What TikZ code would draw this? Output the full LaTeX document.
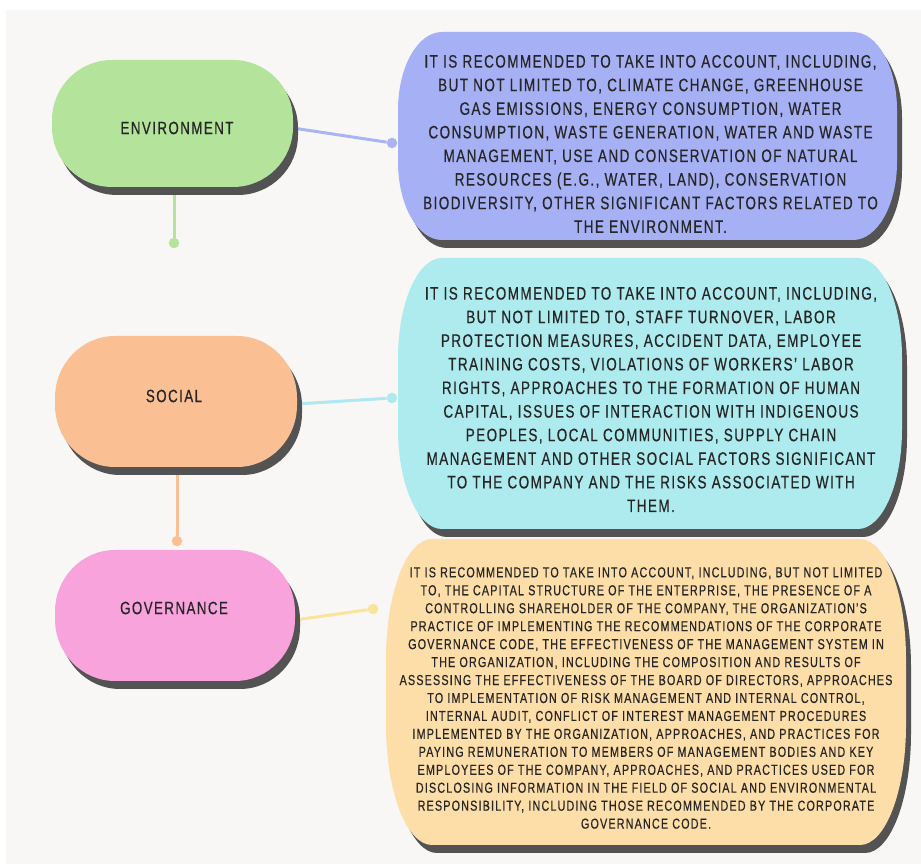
\documentclass[tikz,border=0pt]{standalone}
\usepackage{fontspec}
\setmainfont{Liberation Sans}[FakeStretch=0.75, LetterSpace=8, FakeBold=0.5]
\usetikzlibrary{calc}

\definecolor{pagewhite}{HTML}{FFFFFF}
\definecolor{panel}{HTML}{F8F7F5}
\definecolor{shadowgray}{HTML}{535353}
\definecolor{inkgray}{HTML}{262626}
\definecolor{envgreen}{HTML}{B4E49C}
\definecolor{socorange}{HTML}{FBBF94}
\definecolor{govpink}{HTML}{F9A3DD}
\definecolor{infoblue}{HTML}{A6B1F5}
\definecolor{infocyan}{HTML}{AEEBEF}
\definecolor{infoyellow}{HTML}{FDDDA8}
\definecolor{lineblue}{HTML}{A9B5F2}
\definecolor{linecyan}{HTML}{AEE8F0}
\definecolor{lineyellow}{HTML}{F9E49A}

% outline of a card: rectangle with elliptical corners (x radius #2, y radius #3)
\newcommand\cardpath[3]{([yshift=#3pt]#1.south west) -- ([yshift=-#3pt]#1.north west)
  arc[start angle=180, end angle=90, x radius=#2, y radius=#3]
  -- ([xshift=-#2pt]#1.north east)
  arc[start angle=90, end angle=0, x radius=#2, y radius=#3]
  -- ([yshift=#3pt]#1.south east)
  arc[start angle=0, end angle=-90, x radius=#2, y radius=#3]
  -- ([xshift=#2pt]#1.south west)
  arc[start angle=270, end angle=180, x radius=#2, y radius=#3] -- cycle}
% card with its dark drop shadow
\newcommand\cardshape[4]{%
  \fill[shadowgray, transform canvas={shift={(5pt,-8pt)}}] \cardpath{#1}{#3}{#4};
  \fill[#2] \cardpath{#1}{#3}{#4};
}

\tikzset{
  cardbox/.style={rectangle, draw=none, inner sep=0pt, outer sep=0pt},
  headtext/.style={text=inkgray, font=\fontsize{17.8}{21}\selectfont},
  infotext/.style={text=inkgray, align=center, font=\fontsize{18}{23.6}\selectfont},
  smalltext/.style={text=inkgray, align=center, font=\fontsize{14.4}{17.95}\selectfont},
  joint/.style={circle, inner sep=0pt, minimum size=10.5pt, fill=#1},
  link/.style={line width=3pt, draw=#1},
}

\begin{document}
\begin{tikzpicture}[x=1pt, y=1pt]
  \useasboundingbox (0,0) rectangle (921,864);
  \fill[pagewhite] (0,0) rectangle (921,864);
  \fill[panel] (6,0) rectangle (921,854);

  % card geometry
  \node[cardbox, minimum width=241pt, minimum height=127pt] (env) at (172.5,740.5) {};
  \node[cardbox, minimum width=242pt, minimum height=131pt] (soc) at (176,462.5) {};
  \node[cardbox, minimum width=240pt, minimum height=131pt] (gov) at (175,248.5) {};
  \node[cardbox, minimum width=499pt, minimum height=208pt] (envinfo) at (647.5,728) {};
  \node[cardbox, minimum width=504pt, minimum height=271pt] (socinfo) at (650,470.5) {};
  \node[cardbox, minimum width=520pt, minimum height=306pt] (govinfo) at (646,172) {};

  % end dots of the connectors
  \node[joint=envgreen] (envdot) at (174,621) {};
  \node[joint=lineblue] (envinfodot) at (392,721) {};
  \node[joint=socorange] (socdot) at (177,323) {};
  \node[joint=linecyan] (socinfodot) at (392,466) {};
  \node[joint=lineyellow] (govinfodot) at (373,255) {};

  % connectors
  \draw[link=envgreen] (envdot |- env.south) -- (envdot);
  \draw[link=lineblue] ([yshift=-4.5pt]env.east) -- (envinfodot);
  \draw[link=socorange] (socdot |- soc.south) -- (socdot);
  \draw[link=linecyan] ([yshift=-2.5pt]soc.east) -- (socinfodot);
  \draw[link=lineyellow] ([yshift=-4.5pt]gov.east) -- (govinfodot);

  % cards
  \cardshape{env}{envgreen}{60}{60}
  \cardshape{soc}{socorange}{60}{62}
  \cardshape{gov}{govpink}{60}{62}
  \cardshape{envinfo}{infoblue}{44}{78}
  \cardshape{socinfo}{infocyan}{44}{100}
  \cardshape{govinfo}{infoyellow}{46}{120}

  % headings
  \node[headtext] (envlabel) at (177,736) {ENVIRONMENT};
  \node[headtext] (soclabel) at (174,468) {SOCIAL};
  \node[headtext] (govlabel) at (174,256) {GOVERNANCE};

  % descriptions
  \node[infotext] (envbody) at (650.5,720) {IT IS RECOMMENDED TO TAKE INTO ACCOUNT, INCLUDING,\\
    BUT NOT LIMITED TO, CLIMATE CHANGE, GREENHOUSE\\
    GAS EMISSIONS, ENERGY CONSUMPTION, WATER\\
    CONSUMPTION, WASTE GENERATION, WATER AND WASTE\\
    MANAGEMENT, USE AND CONSERVATION OF NATURAL\\
    RESOURCES (E.G., WATER, LAND), CONSERVATION\\
    BIODIVERSITY, OTHER SIGNIFICANT FACTORS RELATED TO\\
    THE ENVIRONMENT.};
  \node[infotext] (socbody) at (651,464.5) {IT IS RECOMMENDED TO TAKE INTO ACCOUNT, INCLUDING,\\
    BUT NOT LIMITED TO, STAFF TURNOVER, LABOR\\
    PROTECTION MEASURES, ACCIDENT DATA, EMPLOYEE\\
    TRAINING COSTS, VIOLATIONS OF WORKERS’ LABOR\\
    RIGHTS, APPROACHES TO THE FORMATION OF HUMAN\\
    CAPITAL, ISSUES OF INTERACTION WITH INDIGENOUS\\
    PEOPLES, LOCAL COMMUNITIES, SUPPLY CHAIN\\
    MANAGEMENT AND OTHER SOCIAL FACTORS SIGNIFICANT\\
    TO THE COMPANY AND THE RISKS ASSOCIATED WITH\\
    THEM.};
  \node[smalltext] (govbody) at (646,166) {IT IS RECOMMENDED TO TAKE INTO ACCOUNT, INCLUDING, BUT NOT LIMITED\\
    TO, THE CAPITAL STRUCTURE OF THE ENTERPRISE, THE PRESENCE OF A\\
    CONTROLLING SHAREHOLDER OF THE COMPANY, THE ORGANIZATION’S\\
    PRACTICE OF IMPLEMENTING THE RECOMMENDATIONS OF THE CORPORATE\\
    GOVERNANCE CODE, THE EFFECTIVENESS OF THE MANAGEMENT SYSTEM IN\\
    THE ORGANIZATION, INCLUDING THE COMPOSITION AND RESULTS OF\\
    ASSESSING THE EFFECTIVENESS OF THE BOARD OF DIRECTORS, APPROACHES\\
    TO IMPLEMENTATION OF RISK MANAGEMENT AND INTERNAL CONTROL,\\
    INTERNAL AUDIT, CONFLICT OF INTEREST MANAGEMENT PROCEDURES\\
    IMPLEMENTED BY THE ORGANIZATION, APPROACHES, AND PRACTICES FOR\\
    PAYING REMUNERATION TO MEMBERS OF MANAGEMENT BODIES AND KEY\\
    EMPLOYEES OF THE COMPANY, APPROACHES, AND PRACTICES USED FOR\\
    DISCLOSING INFORMATION IN THE FIELD OF SOCIAL AND ENVIRONMENTAL\\
    RESPONSIBILITY, INCLUDING THOSE RECOMMENDED BY THE CORPORATE\\
    GOVERNANCE CODE.};
\end{tikzpicture}
\end{document}
